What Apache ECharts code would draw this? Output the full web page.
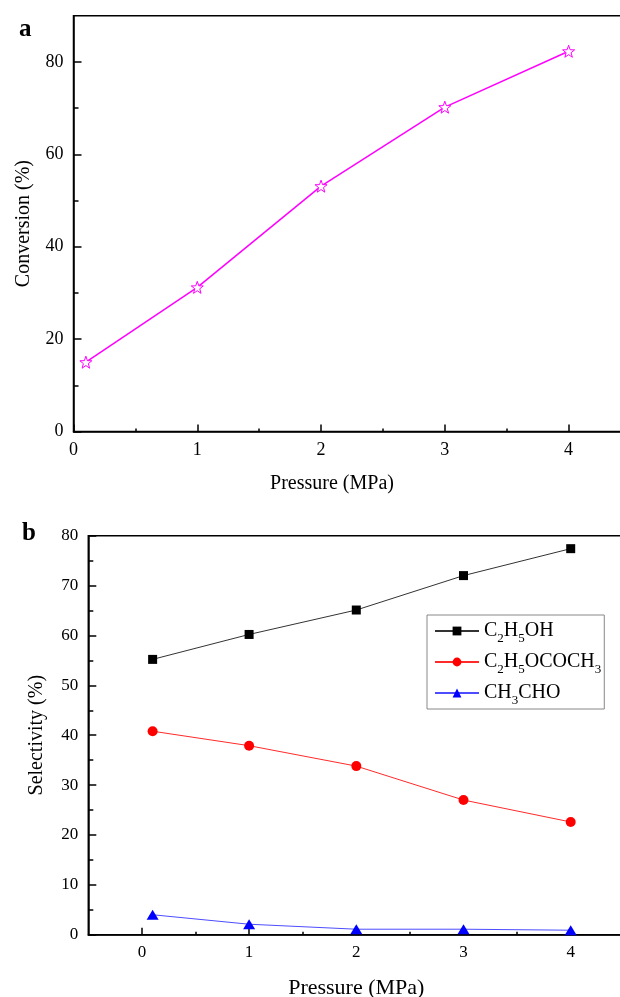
<!DOCTYPE html>
<html>
<head>
<meta charset="utf-8">
<script src="https://cdn.jsdelivr.net/npm/echarts@6/dist/echarts.min.js"></script>
<style>
html, body { margin: 0; padding: 0; background: #fff; }
#main { width: 620px; height: 997px; }
</style>
</head>
<body>
<div id="main"></div>
<script>
// data
var pressure = [0.1, 1, 2, 3, 4];
var conversion = [15.0, 31.2, 53.1, 70.2, 82.3];
var ethanol = [55.2, 60.2, 65.1, 72.0, 77.4];
var ethylAcetate = [40.8, 37.9, 33.8, 27.0, 22.6];
var acetaldehyde = [4.0, 2.1, 1.1, 1.1, 0.9];
var seriesNames = ['C2H5OH', 'C2H5OCOCH3', 'CH3CHO'];
var legendText = ['C{s|2}H{s|5}OH', 'C{s|2}H{s|5}OCOCH{s|3}', 'CH{s|3}CHO'];

// tick positions
var xMajor = [0, 1, 2, 3, 4];
var xMinor = [0.5, 1.5, 2.5, 3.5];
var yMajorA = [0, 20, 40, 60, 80];
var yMinorA = [10, 30, 50, 70];
var yMajorB = [0, 10, 20, 30, 40, 50, 60, 70, 80];
var yMinorB = [5, 15, 25, 35, 45, 55, 65, 75];

var font = "'Liberation Serif', 'Times New Roman', serif";
var starPath = 'path://M12,0 L14.9,8.1 L23.4,8.3 L16.7,13.5 L19.1,21.8 L12,17 L4.9,21.8 L7.3,13.5 L0.6,8.3 L9.1,8.1 Z';

function pairs(ys) {
  return pressure.map(function (p, i) { return [p, ys[i]]; });
}

function mainAxis(idx, min, max, ticks, len, size, margin, name, gap, extra) {
  var a = {
    type: 'value', gridIndex: idx, min: min, max: max,
    splitLine: { show: false },
    axisLine: { show: true, onZero: false, lineStyle: { color: '#000', width: 1.5 } },
    axisTick: { show: true, inside: true, length: len, customValues: ticks, lineStyle: { color: '#000', width: 1.5 } },
    axisLabel: { customValues: ticks, color: '#000', fontFamily: font, fontSize: size, margin: margin },
    name: name, nameLocation: 'middle', nameGap: gap,
    nameTextStyle: { color: '#000', fontFamily: font, fontSize: 20 }
  };
  for (var k in extra) a[k] = extra[k];
  return a;
}

function minorAxis(idx, min, max, ticks, len, extra) {
  var a = {
    type: 'value', gridIndex: idx, min: min, max: max,
    splitLine: { show: false },
    axisLine: { show: false, onZero: false },
    axisTick: { show: true, inside: true, length: len, customValues: ticks, lineStyle: { color: '#000', width: 1.5 } },
    axisLabel: { show: false }
  };
  for (var k in extra) a[k] = extra[k];
  return a;
}

var chart = echarts.init(document.getElementById('main'), null, { renderer: 'canvas' });

var option = {
  backgroundColor: '#fff',
  animation: false,
  grid: [
    { left: 73.5, top: 15.7, width: 557, height: 415.8, show: true, borderColor: '#000', borderWidth: 1.5, backgroundColor: 'transparent', outerBoundsMode: 'none', containLabel: false },
    { left: 88.3, top: 535.7, width: 536, height: 399, show: true, borderColor: '#000', borderWidth: 1.5, backgroundColor: 'transparent', outerBoundsMode: 'none', containLabel: false }
  ],
  xAxis: [
    mainAxis(0, 0, 4.5, xMajor, 7, 18, 10, 'Pressure (MPa)', 42, { position: 'bottom', nameTextStyle: { color: '#000', fontFamily: font, fontSize: 20, padding: [0, 40, 0, 0] } }),
    minorAxis(0, 0, 4.5, xMinor, 3, { position: 'bottom' }),
    mainAxis(1, -0.5, 4.5, xMajor, 7, 17, 9, 'Pressure (MPa)', 43, { position: 'bottom', nameTextStyle: { color: '#000', fontFamily: font, fontSize: 22 } }),
    minorAxis(1, -0.5, 4.5, xMinor, 3, { position: 'bottom' })
  ],
  yAxis: [
    mainAxis(0, 0, 90, yMajorA, 8, 18, 10, 'Conversion (%)', 40, { position: 'left' }),
    minorAxis(0, 0, 90, yMinorA, 5, { position: 'left' }),
    mainAxis(1, 0, 80, yMajorB, 8, 17, 10, 'Selectivity (%)', 42, { position: 'left' }),
    minorAxis(1, 0, 80, yMinorB, 5, { position: 'left' })
  ],
  legend: {
    left: 427, top: 615,
    orient: 'vertical',
    selectedMode: false,
    data: seriesNames,
    itemWidth: 44, itemHeight: 11, itemGap: 3,
    padding: [2, 3, 2, 7],
    borderColor: '#888', borderWidth: 1,
    formatter: function (name) { return legendText[seriesNames.indexOf(name)]; },
    textStyle: {
      color: '#000', fontFamily: font, fontSize: 20, lineHeight: 28,
      rich: { s: { fontFamily: font, fontSize: 13, verticalAlign: 'bottom', lineHeight: 28 } }
    }
  },
  graphic: [
    { type: 'text', left: 19, top: 17, style: { text: 'a', font: 'bold 25px ' + font, fill: '#000' } },
    { type: 'text', left: 22, top: 521, style: { text: 'b', font: 'bold 25px ' + font, fill: '#000' } }
  ],
  series: [
    {
      name: 'Conversion', type: 'line', xAxisIndex: 0, yAxisIndex: 0,
      data: pairs(conversion),
      symbol: starPath, symbolSize: 12,
      lineStyle: { color: '#ff00ff', width: 1.5 },
      itemStyle: { color: '#fff', borderColor: '#ff00ff', borderWidth: 1 }
    },
    {
      name: seriesNames[0], type: 'line', xAxisIndex: 2, yAxisIndex: 2,
      data: pairs(ethanol),
      symbol: 'rect', symbolSize: 9,
      lineStyle: { color: '#333', width: 1 },
      itemStyle: { color: '#000' }
    },
    {
      name: seriesNames[1], type: 'line', xAxisIndex: 2, yAxisIndex: 2,
      data: pairs(ethylAcetate),
      symbol: 'circle', symbolSize: 10,
      lineStyle: { color: '#ff2a2a', width: 1 },
      itemStyle: { color: '#ff0000' }
    },
    {
      name: seriesNames[2], type: 'line', xAxisIndex: 2, yAxisIndex: 2,
      data: pairs(acetaldehyde),
      symbol: 'triangle', symbolSize: [12, 10],
      lineStyle: { color: '#4d4dff', width: 1 },
      itemStyle: { color: '#0000ff' }
    }
  ]
};

chart.setOption(option);
</script>
</body>
</html>
